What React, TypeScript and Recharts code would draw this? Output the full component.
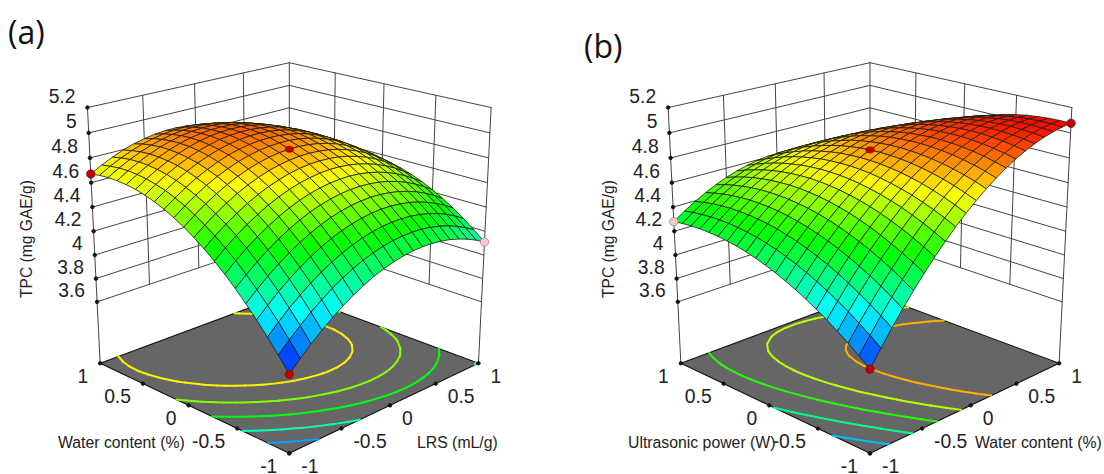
import { ScatterChart, Scatter, XAxis, YAxis } from "recharts";

const PANEL_W = 552;
const PANEL_H = 474;

const zTicks = [5.2, 5, 4.8, 4.6, 4.4, 4.2, 4, 3.8, 3.6];
const zTickLabels = ["5.2", "5", "4.8", "4.6", "4.4", "4.2", "4", "3.8", "3.6"];
const floorTicks = [-1, -0.5, 0, 0.5, 1];
const floorTickLabels = ["-1", "-0.5", "0", "0.5", "1"];
const wallTicks = [-0.5, 0, 0.5];

const levelsA = [4.75, 4.56, 4.36, 4.13, 3.9];
const levelsB = [4.84, 4.635, 4.43, 4.19, 3.94];

// [x, y, z, colour group]
const pointsA = [
  [0, 0, 4.87, 0],
  [-1, 1, 4.67, 1],
  [-1, -1, 3.68, 1],
  [1, -1, 4.11, 2],
];
const pointsB = [
  [0, 0, 4.864, 0],
  [1, -1, 5.076, 1],
  [-1, -1, 3.72, 1],
  [-1, 1, 4.279, 2],
];

// rows: y = -1 .. 1, columns: x = -1 .. 1, steps of 0.1
const surfaceA = [
  [3.680, 3.766, 3.844, 3.916, 3.982, 4.040, 4.092, 4.137, 4.176, 4.207, 4.232, 4.250, 4.262, 4.266, 4.264, 4.255, 4.240, 4.217, 4.188, 4.153, 4.110],
  [3.792, 3.875, 3.952, 4.023, 4.086, 4.143, 4.193, 4.236, 4.272, 4.302, 4.325, 4.342, 4.351, 4.354, 4.350, 4.339, 4.322, 4.298, 4.267, 4.229, 4.185],
  [3.897, 3.979, 4.054, 4.122, 4.184, 4.239, 4.287, 4.328, 4.363, 4.391, 4.412, 4.426, 4.434, 4.435, 4.429, 4.417, 4.398, 4.372, 4.339, 4.299, 4.253],
  [3.995, 4.075, 4.149, 4.215, 4.275, 4.328, 4.374, 4.414, 4.447, 4.473, 4.492, 4.505, 4.511, 4.510, 4.502, 4.488, 4.467, 4.439, 4.404, 4.363, 4.315],
  [4.087, 4.165, 4.237, 4.302, 4.360, 4.411, 4.455, 4.493, 4.524, 4.548, 4.566, 4.576, 4.581, 4.578, 4.568, 4.552, 4.529, 4.500, 4.463, 4.420, 4.370],
  [4.173, 4.249, 4.319, 4.382, 4.438, 4.487, 4.530, 4.566, 4.595, 4.617, 4.633, 4.642, 4.644, 4.639, 4.628, 4.610, 4.585, 4.554, 4.515, 4.470, 4.419],
  [4.252, 4.326, 4.394, 4.455, 4.509, 4.557, 4.598, 4.632, 4.659, 4.679, 4.693, 4.700, 4.701, 4.694, 4.681, 4.661, 4.635, 4.601, 4.561, 4.514, 4.461],
  [4.324, 4.397, 4.463, 4.522, 4.574, 4.620, 4.659, 4.691, 4.717, 4.735, 4.747, 4.753, 4.751, 4.743, 4.728, 4.706, 4.678, 4.643, 4.601, 4.552, 4.497],
  [4.390, 4.461, 4.525, 4.582, 4.633, 4.677, 4.714, 4.744, 4.768, 4.785, 4.795, 4.798, 4.795, 4.785, 4.768, 4.744, 4.714, 4.677, 4.633, 4.583, 4.526],
  [4.449, 4.518, 4.580, 4.636, 4.685, 4.727, 4.762, 4.791, 4.812, 4.827, 4.836, 4.837, 4.832, 4.820, 4.802, 4.776, 4.744, 4.705, 4.659, 4.607, 4.548],
  [4.502, 4.569, 4.630, 4.683, 4.730, 4.770, 4.804, 4.830, 4.850, 4.864, 4.870, 4.870, 4.863, 4.849, 4.829, 4.801, 4.767, 4.727, 4.679, 4.625, 4.564],
  [4.548, 4.614, 4.672, 4.724, 4.769, 4.807, 4.839, 4.864, 4.882, 4.893, 4.898, 4.896, 4.887, 4.871, 4.849, 4.820, 4.784, 4.742, 4.692, 4.636, 4.573],
  [4.588, 4.651, 4.708, 4.758, 4.801, 4.838, 4.868, 4.891, 4.907, 4.916, 4.919, 4.915, 4.904, 4.887, 4.863, 4.832, 4.794, 4.750, 4.699, 4.641, 4.576],
  [4.621, 4.683, 4.738, 4.786, 4.827, 4.862, 4.890, 4.911, 4.925, 4.933, 4.934, 4.928, 4.916, 4.896, 4.870, 4.838, 4.798, 4.752, 4.699, 4.639, 4.573],
  [4.648, 4.707, 4.761, 4.807, 4.846, 4.879, 4.905, 4.925, 4.937, 4.943, 4.942, 4.934, 4.920, 4.899, 4.871, 4.837, 4.795, 4.747, 4.692, 4.631, 4.563],
  [4.668, 4.726, 4.777, 4.821, 4.859, 4.890, 4.914, 4.932, 4.942, 4.946, 4.944, 4.934, 4.918, 4.895, 4.865, 4.829, 4.786, 4.736, 4.679, 4.616, 4.546],
  [4.681, 4.737, 4.787, 4.829, 4.865, 4.894, 4.917, 4.932, 4.941, 4.943, 4.939, 4.928, 4.910, 4.885, 4.853, 4.815, 4.770, 4.718, 4.660, 4.594, 4.523],
  [4.688, 4.743, 4.790, 4.831, 4.865, 4.892, 4.913, 4.927, 4.934, 4.934, 4.928, 4.914, 4.894, 4.868, 4.835, 4.794, 4.748, 4.694, 4.634, 4.567, 4.493],
  [4.689, 4.741, 4.787, 4.826, 4.858, 4.883, 4.902, 4.914, 4.919, 4.918, 4.910, 4.895, 4.873, 4.844, 4.809, 4.767, 4.719, 4.663, 4.601, 4.532, 4.456],
  [4.683, 4.733, 4.777, 4.814, 4.845, 4.868, 4.885, 4.895, 4.898, 4.895, 4.885, 4.868, 4.845, 4.814, 4.777, 4.733, 4.683, 4.626, 4.562, 4.491, 4.413],
  [4.670, 4.719, 4.761, 4.796, 4.825, 4.846, 4.861, 4.870, 4.871, 4.866, 4.854, 4.835, 4.810, 4.778, 4.739, 4.693, 4.641, 4.582, 4.516, 4.443, 4.364],
];

const surfaceB = [
  [3.720, 3.846, 3.967, 4.081, 4.188, 4.290, 4.386, 4.475, 4.558, 4.635, 4.706, 4.771, 4.829, 4.882, 4.928, 4.968, 5.002, 5.030, 5.051, 5.067, 5.076],
  [3.787, 3.910, 4.027, 4.138, 4.242, 4.341, 4.433, 4.519, 4.599, 4.673, 4.740, 4.802, 4.857, 4.906, 4.949, 4.986, 5.017, 5.041, 5.059, 5.072, 5.078],
  [3.850, 3.970, 4.083, 4.191, 4.292, 4.387, 4.476, 4.559, 4.636, 4.706, 4.770, 4.829, 4.881, 4.927, 4.966, 5.000, 5.027, 5.048, 5.063, 5.072, 5.075],
  [3.909, 4.025, 4.135, 4.240, 4.338, 4.429, 4.515, 4.595, 4.668, 4.735, 4.796, 4.851, 4.900, 4.943, 4.979, 5.009, 5.033, 5.051, 5.063, 5.069, 5.068],
  [3.963, 4.076, 4.184, 4.285, 4.379, 4.468, 4.550, 4.627, 4.697, 4.761, 4.818, 4.870, 4.916, 4.955, 4.988, 5.015, 5.036, 5.051, 5.059, 5.061, 5.058],
  [4.014, 4.124, 4.228, 4.325, 4.417, 4.502, 4.581, 4.654, 4.721, 4.782, 4.836, 4.885, 4.927, 4.963, 4.993, 5.017, 5.034, 5.046, 5.051, 5.050, 5.043],
  [4.060, 4.167, 4.268, 4.362, 4.450, 4.532, 4.608, 4.678, 4.741, 4.799, 4.850, 4.895, 4.934, 4.967, 4.993, 5.014, 5.028, 5.036, 5.038, 5.034, 5.024],
  [4.103, 4.206, 4.303, 4.394, 4.479, 4.558, 4.631, 4.697, 4.758, 4.812, 4.860, 4.901, 4.937, 4.967, 4.990, 5.007, 5.018, 5.023, 5.022, 5.014, 5.001],
  [4.141, 4.241, 4.335, 4.423, 4.505, 4.580, 4.649, 4.713, 4.770, 4.821, 4.865, 4.904, 4.936, 4.962, 4.983, 4.996, 5.004, 5.006, 5.001, 4.991, 4.974],
  [4.175, 4.272, 4.363, 4.447, 4.526, 4.598, 4.664, 4.724, 4.778, 4.825, 4.867, 4.902, 4.931, 4.954, 4.971, 4.982, 4.986, 4.984, 4.977, 4.962, 4.942],
  [4.205, 4.299, 4.386, 4.467, 4.543, 4.612, 4.674, 4.731, 4.782, 4.826, 4.864, 4.896, 4.922, 4.942, 4.955, 4.963, 4.964, 4.959, 4.948, 4.930, 4.907],
  [4.231, 4.321, 4.406, 4.484, 4.555, 4.621, 4.681, 4.734, 4.781, 4.822, 4.857, 4.886, 4.909, 4.925, 4.935, 4.939, 4.937, 4.929, 4.915, 4.894, 4.868],
  [4.253, 4.340, 4.421, 4.496, 4.564, 4.627, 4.683, 4.733, 4.777, 4.815, 4.846, 4.872, 4.891, 4.904, 4.911, 4.912, 4.907, 4.895, 4.878, 4.854, 4.824],
  [4.271, 4.354, 4.432, 4.504, 4.569, 4.628, 4.681, 4.728, 4.769, 4.803, 4.831, 4.854, 4.870, 4.880, 4.883, 4.881, 4.872, 4.858, 4.837, 4.810, 4.776],
  [4.284, 4.365, 4.439, 4.507, 4.569, 4.625, 4.675, 4.719, 4.756, 4.787, 4.812, 4.831, 4.844, 4.851, 4.851, 4.846, 4.834, 4.816, 4.792, 4.761, 4.725],
  [4.294, 4.371, 4.442, 4.507, 4.566, 4.618, 4.665, 4.705, 4.739, 4.767, 4.789, 4.805, 4.814, 4.818, 4.815, 4.806, 4.791, 4.770, 4.742, 4.709, 4.669],
  [4.299, 4.373, 4.441, 4.503, 4.558, 4.608, 4.651, 4.688, 4.719, 4.743, 4.762, 4.774, 4.781, 4.781, 4.775, 4.762, 4.744, 4.720, 4.689, 4.652, 4.609],
  [4.301, 4.371, 4.436, 4.494, 4.546, 4.593, 4.633, 4.666, 4.694, 4.715, 4.731, 4.740, 4.743, 4.740, 4.730, 4.715, 4.693, 4.665, 4.631, 4.591, 4.545],
  [4.298, 4.365, 4.427, 4.482, 4.531, 4.574, 4.610, 4.641, 4.665, 4.683, 4.695, 4.701, 4.701, 4.694, 4.682, 4.663, 4.638, 4.607, 4.570, 4.526, 4.477],
  [4.291, 4.355, 4.413, 4.465, 4.511, 4.550, 4.584, 4.611, 4.632, 4.647, 4.656, 4.658, 4.655, 4.645, 4.629, 4.607, 4.579, 4.545, 4.504, 4.457, 4.404],
  [4.280, 4.341, 4.396, 4.444, 4.487, 4.523, 4.553, 4.577, 4.595, 4.607, 4.612, 4.611, 4.605, 4.592, 4.572, 4.547, 4.516, 4.478, 4.434, 4.384, 4.328],
];

const zFloor = 3.06;
const zRange = 2.139;
const colorMin = 3.68;
const colorMax = 5.08;

// perspective camera fitted to the box corners
const project = (x: number, y: number, z: number, cx: number) => {
  const h = (z - zFloor) / zRange;
  const s = (x - y) / 2;
  const d = (x + y) / 2;
  const w = 1 + 0.1229 * d - 0.0629 * h;
  return [cx + (189.15 * s) / w, (363.3 - 34.3 * d - 262.4 * h) / w];
};

const rainbow = (z: number) => {
  const t = Math.max(0, Math.min(1, (z - colorMin) / (colorMax - colorMin))) * 4;
  const f = t - Math.floor(t);
  const up = Math.round(255 * f);
  const down = 255 - up;
  if (t < 1) return `rgb(0,${up},255)`;
  if (t < 2) return `rgb(0,255,${down})`;
  if (t < 3) return `rgb(${up},255,0)`;
  if (t < 4) return `rgb(255,${down},0)`;
  return "rgb(255,0,0)";
};

const Poly = (props: any) => {
  const p = props.payload;
  const dx = props.cx - p.px;
  const dy = props.cy - p.py;
  const points = p.pts.map((q: number[]) => `${q[0] + dx},${q[1] + dy}`).join(" ");
  if (p.closed) {
    return <polygon points={points} fill={p.fill} stroke={p.stroke} strokeWidth={p.sw} strokeLinejoin="round" />;
  }
  return <polyline points={points} fill="none" stroke={p.stroke} strokeWidth={p.sw} strokeLinecap="round" />;
};

const Dot = (props: any) => {
  const p = props.payload;
  return <ellipse cx={props.cx} cy={props.cy} rx={p.rx} ry={p.ry} fill={p.fill} stroke={p.stroke} strokeWidth={0.8} />;
};

const Label = (props: any) => {
  const p = props.payload;
  return (
    <text
      x={props.cx}
      y={props.cy}
      textAnchor={p.anchor}
      dominantBaseline="central"
      fontFamily={p.font || "Liberation Sans"}
      fontSize={p.size}
      fill={p.color || "#222"}
      transform={p.rotate ? `rotate(${p.rotate} ${props.cx} ${props.cy})` : undefined}
    >
      {p.text}
    </text>
  );
};

const seg = (a: number[], b: number[], stroke: string, sw: number) => ({
  px: a[0],
  py: a[1],
  pts: [a, b],
  stroke,
  sw,
  closed: false,
});

const buildContours = (grid: number[][], levels: number[], cx: number) => {
  const out: any[] = [];
  const n = grid.length;
  const pos = (i: number) => -1 + (2 * i) / (n - 1);
  for (const level of levels) {
    const color = rainbow(level);
    for (let j = 0; j < n - 1; j++) {
      for (let i = 0; i < n - 1; i++) {
        const c = [
          [i, j],
          [i + 1, j],
          [i + 1, j + 1],
          [i, j + 1],
        ];
        const hits: number[][] = [];
        for (let k = 0; k < 4; k++) {
          const [i0, j0] = c[k];
          const [i1, j1] = c[(k + 1) % 4];
          const z0 = grid[j0][i0];
          const z1 = grid[j1][i1];
          if (z0 < level !== z1 < level) {
            const f = (level - z0) / (z1 - z0);
            const x = pos(i0) + (pos(i1) - pos(i0)) * f;
            const y = pos(j0) + (pos(j1) - pos(j0)) * f;
            hits.push(project(x, y, zFloor, cx));
          }
        }
        if (hits.length >= 2) out.push(seg(hits[0], hits[1], color, 2));
        if (hits.length === 4) out.push(seg(hits[2], hits[3], color, 2));
      }
    }
  }
  return out;
};

const buildFacets = (grid: number[][], cx: number) => {
  const n = grid.length;
  const pos = (i: number) => -1 + (2 * i) / (n - 1);
  const cells: any[] = [];
  for (let j = 0; j < n - 1; j++) {
    for (let i = 0; i < n - 1; i++) {
      const corners = [
        [i, j],
        [i + 1, j],
        [i + 1, j + 1],
        [i, j + 1],
      ];
      const pts = corners.map(([a, b]) => project(pos(a), pos(b), grid[b][a], cx));
      const mean = corners.reduce((sum, [a, b]) => sum + grid[b][a], 0) / 4;
      cells.push({
        px: pts[0][0],
        py: pts[0][1],
        pts,
        fill: rainbow(mean),
        stroke: "#1c1c10",
        sw: 0.8,
        closed: true,
        depth: i + j,
      });
    }
  }
  return cells.sort((a, b) => b.depth - a.depth);
};

type PanelProps = {
  letter: string;
  letterX: number;
  letterY: number;
  cx: number;
  grid: number[][];
  levels: number[];
  points: number[][];
  leftTitle: string;
  leftTitleX: number;
  rightTitle: string;
  rightTitleX: number;
  zTitleX: number;
};

const Panel = ({ letter, letterX, letterY, cx, grid, levels, points, leftTitle, leftTitleX, rightTitle, rightTitleX, zTitleX }: PanelProps) => {
  const P = (x: number, y: number, z: number) => project(x, y, z, cx);
  const zTop = zTicks[0];
  const zLow = zTicks[zTicks.length - 1];

  const corners = [P(-1, -1, zFloor), P(1, -1, zFloor), P(1, 1, zFloor), P(-1, 1, zFloor)];
  const floor = [
    { px: corners[0][0], py: corners[0][1], pts: corners, fill: "#666666", stroke: "#111", sw: 1.1, closed: true },
  ];

  const walls: any[] = [];
  const wallColor = "#444";
  for (const z of zTicks) {
    walls.push(seg(P(-1, 1, z), P(1, 1, z), wallColor, 1));
    walls.push(seg(P(1, 1, z), P(1, -1, z), wallColor, 1));
  }
  for (const t of wallTicks) {
    walls.push(seg(P(t, 1, zLow), P(t, 1, zTop), wallColor, 1));
    walls.push(seg(P(1, t, zLow), P(1, t, zTop), wallColor, 1));
  }
  walls.push(seg(P(1, 1, zLow), P(1, 1, zTop), wallColor, 1));
  walls.push(seg(P(-1, 1, zFloor), P(-1, 1, zTop), wallColor, 1));
  walls.push(seg(P(1, -1, zFloor), P(1, -1, zTop), wallColor, 1));

  const tickDots: any[] = [];
  const addDot = (q: number[]) => tickDots.push({ px: q[0], py: q[1], rx: 1.8, ry: 1.8, fill: "#111", stroke: "#111" });
  zTicks.forEach((z) => addDot(P(-1, 1, z)));
  floorTicks.forEach((t) => {
    addDot(P(-1, t, zFloor));
    addDot(P(t, -1, zFloor));
  });

  const marks = points.map(([x, y, z, group]) => {
    const q = P(x, y, z);
    return {
      px: q[0],
      py: q[1],
      rx: 4.2,
      ry: group === 0 ? 3 : 4.2,
      fill: group === 2 ? "#ffc8c8" : "#c00000",
      stroke: group === 2 ? "#a08080" : "#7a1010",
    };
  });

  const labels: any[] = [];
  zTicks.forEach((z, i) => {
    const q = P(-1, 1, z);
    labels.push({ px: q[0] - 12, py: q[1] - 11.5, text: zTickLabels[i], anchor: "end", size: 19.3 });
  });
  floorTicks.forEach((t, i) => {
    const a = P(-1, t, zFloor);
    const b = P(t, -1, zFloor);
    labels.push({ px: a[0] - 12, py: a[1] + 13, text: floorTickLabels[i], anchor: "end", size: 19.3 });
    labels.push({ px: b[0] + 12, py: b[1] + 13, text: floorTickLabels[i], anchor: "start", size: 19.3 });
  });
  labels.push({ px: leftTitleX, py: 442, text: leftTitle, anchor: "start", size: 15.8 });
  labels.push({ px: rightTitleX, py: 442, text: rightTitle, anchor: "start", size: 15.8 });
  labels.push({ px: zTitleX, py: 239, text: "TPC (mg GAE/g)", anchor: "middle", size: 15.6, rotate: -90 });
  labels.push({ px: letterX, py: letterY, text: letter, anchor: "start", size: 32, font: "Open Sans", color: "#111" });

  return (
    <ScatterChart width={PANEL_W} height={PANEL_H} margin={{ top: 0, right: 0, bottom: 0, left: 0 }}>
      <XAxis type="number" dataKey="px" domain={[0, PANEL_W]} hide />
      <YAxis type="number" dataKey="py" domain={[0, PANEL_H]} reversed hide />
      <Scatter data={walls} shape={Poly} isAnimationActive={false} />
      <Scatter data={floor} shape={Poly} isAnimationActive={false} />
      <Scatter data={buildContours(grid, levels, cx)} shape={Poly} isAnimationActive={false} />
      <Scatter data={tickDots} shape={Dot} isAnimationActive={false} />
      <Scatter data={buildFacets(grid, cx)} shape={Poly} isAnimationActive={false} />
      <Scatter data={marks} shape={Dot} isAnimationActive={false} />
      <Scatter data={labels} shape={Label} isAnimationActive={false} />
    </ScatterChart>
  );
};

export default function App() {
  return (
    <div style={{ position: "absolute", left: 0, top: 0, width: 1104, height: 474, display: "flex", background: "#fff" }}>
      <Panel
        letter="(a)"
        letterX={8}
        letterY={31}
        cx={289.3}
        grid={surfaceA}
        levels={levelsA}
        points={pointsA}
        leftTitle="Water content (%)"
        leftTitleX={58}
        rightTitle="LRS (mL/g)"
        rightTitleX={417}
        zTitleX={26}
      />
      <Panel
        letter="(b)"
        letterX={32}
        letterY={45}
        cx={318}
        grid={surfaceB}
        levels={levelsB}
        points={pointsB}
        leftTitle="Ultrasonic power (W)"
        leftTitleX={76}
        rightTitle="Water content (%)"
        rightTitleX={423}
        zTitleX={56}
      />
    </div>
  );
}
